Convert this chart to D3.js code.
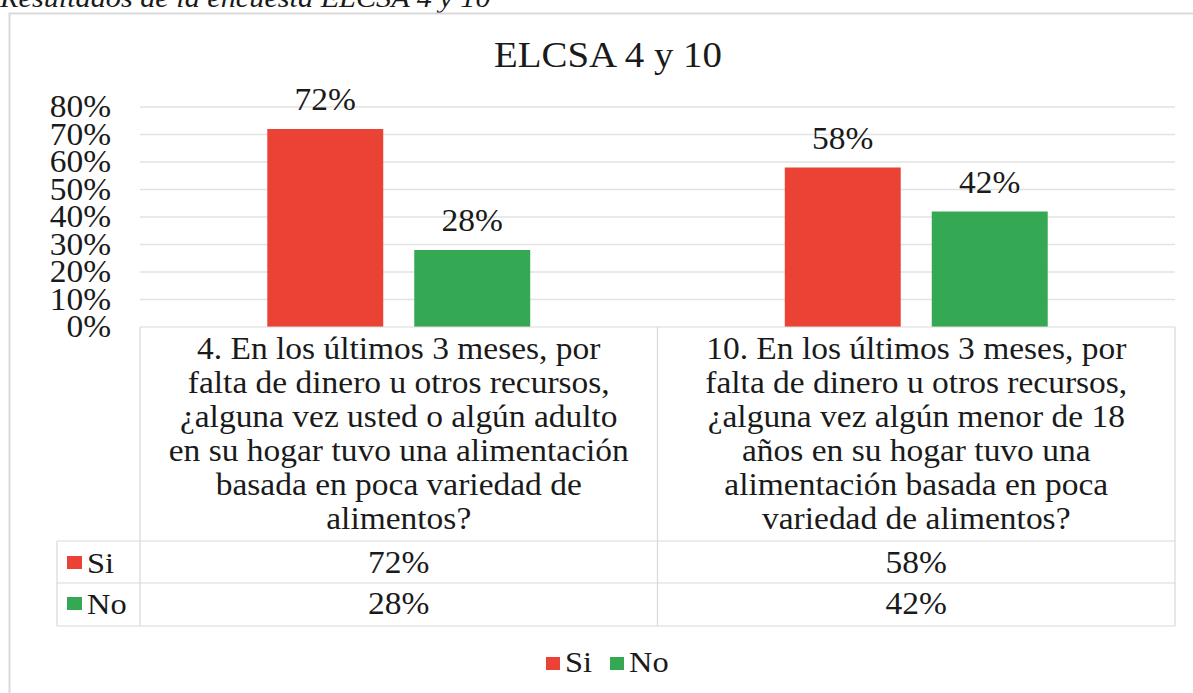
<!DOCTYPE html>
<html>
<head>
<meta charset="utf-8">
<script src="https://cdn.jsdelivr.net/npm/d3@7"></script>
<style>
  body { margin: 0; background: #fff; }
</style>
</head>
<body>
<script>
// data
const categories = ['q4', 'q10']
const categoryLines = [
    ['4. En los últimos 3 meses, por', 'falta de dinero u otros recursos,', '¿alguna vez usted o algún adulto',
     'en su hogar tuvo una alimentación', 'basada en poca variedad de', 'alimentos?'],
    ['10. En los últimos 3 meses, por', 'falta de dinero u otros recursos,', '¿alguna vez algún menor de 18',
     'años en su hogar tuvo una', 'alimentación basada en poca', 'variedad de alimentos?']
]
const seriesNames = ['Si', 'No']
const siValues = [0.72, 0.58]
const noValues = [0.28, 0.42]
const yTicks = [0, 0.1, 0.2, 0.3, 0.4, 0.5, 0.6, 0.7, 0.8]
const colors = {Si: '#EA4335', No: '#34A853'}

const width = 1193, height = 693
const plot = {left: 140, right: 1175, top: 107, bottom: 327}
const tableRows = {header: 541, si: 583, no: 626, left: 57}
const font = "'Liberation Serif'"
const sx = 1.08  // the source text is drawn a little wide
const pct = d3.format('.0%')

const svg = d3.select('body').append('svg')
    .attr('width', width)
    .attr('height', height)

// text helper: serif, slightly stretched horizontally
function addText(parent, x, y, str, size, anchor) {
    return parent.append('text')
        .attr('transform', 'translate(' + x + ',' + y + ') scale(' + sx + ',1)')
        .attr('text-anchor', anchor || 'start')
        .attr('fill', '#1a1a1a')
        .style('font-family', font)
        .style('font-size', size + 'px')
        .text(str)
}

// caption above the chart (cut at the top)
addText(svg, 0, 7, 'Resultados de la encuesta ELCSA 4 y 10', 28)
    .style('font-style', 'italic')

// chart border
svg.append('rect')
    .attr('x', 9.5)
    .attr('y', 13.5)
    .attr('width', 1300)
    .attr('height', 800)
    .attr('fill', 'none')
    .attr('stroke', '#d9d9d9')
    .attr('stroke-width', 2)

// title
addText(svg, 608, 67, 'ELCSA 4 y 10', 36, 'middle')

// scales
const yScale = d3.scaleLinear()
    .domain([0, 0.8])
    .range([plot.bottom, plot.top])

const xScale = d3.scaleBand()
    .domain(categories)
    .range([plot.left, plot.right])

const xInner = d3.scaleBand()
    .domain(seriesNames)
    .range([0, xScale.bandwidth()])
    .paddingInner(0.211)
    .paddingOuter(0.866)

// gridlines
svg.append('g')
    .selectAll('line')
    .data(yTicks.filter(d => d > 0))
    .enter()
    .append('line')
        .attr('x1', plot.left)
        .attr('x2', plot.right)
        .attr('y1', d => yScale(d))
        .attr('y2', d => yScale(d))
        .attr('stroke', '#e2e2e2')
        .attr('stroke-width', 1.5)

// y axis
const yAxis = svg.append('g')
    .attr('transform', 'translate(' + (plot.left - 17) + ',0)')
    .call(d3.axisLeft(yScale).tickValues(yTicks).tickFormat(pct).tickSize(0).tickPadding(11))
yAxis.select('.domain').remove()
yAxis.selectAll('text')
    .attr('transform', 'scale(' + sx + ',1)')
    .attr('fill', '#1a1a1a')
    .style('font-family', font)
    .style('font-size', '31px')

// bars + labels
const series = seriesNames.map(name => ({
    name: name,
    values: name === 'Si' ? siValues : noValues
}))

series.forEach(s => {
    svg.append('g')
        .selectAll('rect')
        .data(s.values)
        .enter()
        .append('rect')
            .attr('x', (d, i) => xScale(categories[i]) + xInner(s.name))
            .attr('y', d => yScale(d))
            .attr('width', xInner.bandwidth())
            .attr('height', d => yScale(0) - yScale(d))
            .attr('fill', colors[s.name])

    s.values.forEach((v, i) => {
        addText(svg, xScale(categories[i]) + xInner(s.name) + xInner.bandwidth() / 2, yScale(v) - 19, pct(v), 31, 'middle')
    })
})

// data table
const grid = svg.append('g')
    .attr('stroke', '#d9d9d9')
    .attr('stroke-width', 1.2)

grid.append('line')
    .attr('x1', plot.left).attr('x2', plot.right)
    .attr('y1', plot.bottom).attr('y2', plot.bottom)
grid.selectAll('.hline')
    .data([tableRows.header, tableRows.si, tableRows.no])
    .enter()
    .append('line')
        .attr('x1', tableRows.left).attr('x2', plot.right)
        .attr('y1', d => d).attr('y2', d => d)
grid.selectAll('.vline')
    .data([plot.left, xScale(categories[1]), plot.right])
    .enter()
    .append('line')
        .attr('x1', d => d).attr('x2', d => d)
        .attr('y1', plot.bottom).attr('y2', tableRows.no)
grid.append('line')
    .attr('x1', tableRows.left).attr('x2', tableRows.left)
    .attr('y1', tableRows.header).attr('y2', tableRows.no)

// category labels (wrapped)
categoryLines.forEach((lines, i) => {
    addText(svg, xScale(categories[i]) + xScale.bandwidth() / 2, 0, '', 31, 'middle')
        .selectAll('tspan')
        .data(lines)
        .enter()
        .append('tspan')
            .attr('x', 0)
            .attr('y', (d, j) => 359 + j * 34)
            .text(d => d)
})

// table rows: legend key + values
const rowBase = {Si: 573, No: 614}
series.forEach(s => {
    svg.append('rect')
        .attr('x', 67)
        .attr('y', rowBase[s.name] - 17)
        .attr('width', 15)
        .attr('height', 13)
        .attr('fill', colors[s.name])
    addText(svg, 87, rowBase[s.name], s.name, 30)
    s.values.forEach((v, i) => {
        addText(svg, xScale(categories[i]) + xScale.bandwidth() / 2, rowBase[s.name], pct(v), 31, 'middle')
    })
})

// legend
const legendX = {Si: 546, No: 610}
seriesNames.forEach(name => {
    svg.append('rect')
        .attr('x', legendX[name])
        .attr('y', 657)
        .attr('width', 14)
        .attr('height', 13)
        .attr('fill', colors[name])
    addText(svg, legendX[name] + 19, 672, name, 30)
})
</script>
</body>
</html>
